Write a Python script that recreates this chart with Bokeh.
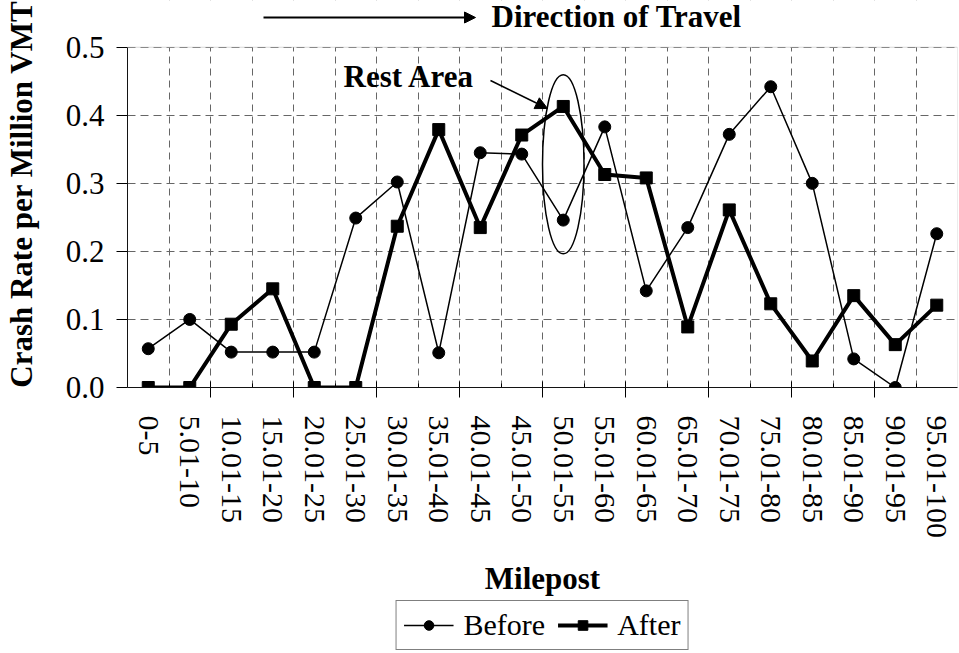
from bokeh.plotting import figure
from bokeh.layouts import column
from bokeh.models import (Range1d, FixedTicker, LinearAxis, Grid, PrintfTickFormatter,
                          Legend, LegendItem, Label, Arrow, NormalHead, BoxAnnotation)
from bokeh.embed import file_html
from bokeh.resources import INLINE

categories = ["0-5", "5.01-10", "10.01-15", "15.01-20", "20.01-25", "25.01-30",
              "30.01-35", "35.01-40", "40.01-45", "45.01-50", "50.01-55", "55.01-60",
              "60.01-65", "65.01-70", "70.01-75", "75.01-80", "80.01-85", "85.01-90",
              "90.01-95", "95.01-100"]
before = [0.057, 0.100, 0.052, 0.052, 0.052, 0.249, 0.302, 0.051, 0.345, 0.343,
          0.246, 0.383, 0.142, 0.235, 0.372, 0.442, 0.300, 0.042, 0.000, 0.226]
after = [0.000, 0.000, 0.093, 0.145, 0.000, 0.000, 0.237, 0.379, 0.235, 0.371,
         0.413, 0.313, 0.308, 0.089, 0.261, 0.123, 0.039, 0.135, 0.063, 0.121]
y_ticks = [0.0, 0.1, 0.2, 0.3, 0.4, 0.5]
rest_area = "50.01-55"

FONT = "Liberation Serif"
W = 958
H_MAIN, H_LEG = 598, 54
FRAME_TOP, FRAME_BOTTOM = 0, 389          # page rows of the drawing area
PLOT_TOP_PX = 47                          # page row of the 0.5 line
n = len(categories)
xs = list(range(n))
boundaries = [i + 0.5 for i in range(n - 1)]
even_bounds = [b for i, b in enumerate(boundaries) if i % 2 == 1]
y_max = y_ticks[-1]
y_end = y_max * (FRAME_BOTTOM - FRAME_TOP) / (FRAME_BOTTOM - PLOT_TOP_PX)

p = figure(width=W, height=H_MAIN, output_backend="svg", toolbar_location=None,
           x_range=Range1d(-0.5, n - 0.5), y_range=Range1d(0, y_end),
           x_axis_type=None,
           min_border_left=124, min_border_right=1, min_border_top=FRAME_TOP,
           min_border_bottom=H_MAIN - FRAME_BOTTOM)
p.outline_line_color = None

ya = p.yaxis[0]
ya.bounds = (0, y_max)
ya.ticker = FixedTicker(ticks=y_ticks, minor_ticks=[])
ya.formatter = PrintfTickFormatter(format="%.1f")
ya.axis_label = "Crash Rate per Million VMT"
ya.axis_label_text_font = FONT
ya.axis_label_text_font_style = "bold"
ya.axis_label_text_font_size = "31px"
ya.axis_label_text_color = "black"
ya.axis_label_standoff = 24
ya.major_label_text_font = FONT
ya.major_label_text_font_size = "31px"
ya.major_label_text_color = "black"
ya.major_label_standoff = 12
ya.major_tick_out = 11
ya.major_tick_in = 0
ya.minor_tick_line_color = None
ya.axis_line_color = "black"
ya.major_tick_line_color = "black"

p.ygrid.ticker = FixedTicker(ticks=y_ticks)
p.ygrid.grid_line_color = "#666666"
p.ygrid.grid_line_dash = "8 5"
p.ygrid.grid_line_width = 1

xa_ticks = LinearAxis(ticker=FixedTicker(ticks=even_bounds, minor_ticks=boundaries),
                      major_tick_in=6, major_tick_out=10, minor_tick_in=4, minor_tick_out=0,
                      major_label_overrides={b: "" for b in even_bounds},
                      major_label_text_font_size="0px", major_label_standoff=0,
                      axis_line_color="black", major_tick_line_color="black",
                      minor_tick_line_color="black")
p.add_layout(xa_ticks, "below")

xa = LinearAxis(ticker=FixedTicker(ticks=xs, minor_ticks=[]),
                major_label_overrides={i: c for i, c in enumerate(categories)},
                major_label_orientation="vertical",
                major_label_text_font=FONT, major_label_text_font_size="30px",
                major_label_text_color="black", major_label_standoff=18,
                major_tick_in=0, major_tick_out=0, major_tick_line_color=None,
                minor_tick_line_color=None, axis_line_color=None,
                axis_label="Milepost", axis_label_text_font=FONT,
                axis_label_text_font_style="bold", axis_label_text_font_size="31px",
                axis_label_text_color="black", axis_label_standoff=20)
p.add_layout(xa, "below")

xgrid = Grid(dimension=0, ticker=FixedTicker(ticks=boundaries),
             grid_line_color="#666666", grid_line_dash="7 5", grid_line_width=1)
p.add_layout(xgrid)

l1 = p.line(xs, before, line_color="black", line_width=1.5)
s1 = p.scatter(xs, before, marker="circle", size=12, fill_color="black", line_color="black")
l2 = p.line(xs, after, line_color="black", line_width=4)
s2 = p.scatter(xs, after, marker="square", size=12, fill_color="black", line_color="black")

ri = categories.index(rest_area)
p.ellipse(x=[ri], y=[0.328], width=1.0, height=0.263, fill_color=None,
          line_color="black", line_width=1.5)

# blank strip above the plot box, and the plot box border
p.add_layout(BoxAnnotation(bottom=y_max, fill_color="white", fill_alpha=1.0,
                           line_color=None, level="annotation"))
p.add_layout(BoxAnnotation(left=-0.5, right=n - 0.5, bottom=0, top=y_max,
                           fill_alpha=0, line_color="#808080", line_width=1,
                           level="annotation"))

# annotations (screen units from the drawing area's bottom-left)
p.add_layout(Label(x=216, y=311, x_units="screen", y_units="screen", text="Rest Area",
                   text_font=FONT, text_font_style="bold", text_font_size="31px",
                   text_color="black", text_baseline="alphabetic", text_align="left"))
p.add_layout(Arrow(x_start=363, y_start=307, x_end=420, y_end=279,
                   start_units="screen", end_units="screen", line_width=1.5,
                   end=NormalHead(size=12, fill_color="black", line_color="black")))
p.add_layout(Arrow(x_start=136, y_start=370, x_end=348, y_end=370,
                   start_units="screen", end_units="screen", line_width=2,
                   end=NormalHead(size=11, fill_color="black", line_color="black")))
p.add_layout(Label(x=364, y=371, x_units="screen", y_units="screen",
                   text="Direction of Travel",
                   text_font=FONT, text_font_style="bold", text_font_size="31px",
                   text_color="black", text_baseline="alphabetic", text_align="left"))

# ---- legend strip (its sample glyphs lie outside its visible ranges) ----
q = figure(width=W, height=H_LEG, output_backend="svg", toolbar_location=None,
           x_range=Range1d(-3, -2), y_range=Range1d(-3, -2),
           x_axis_type=None, y_axis_type=None,
           min_border_left=124, min_border_right=1, min_border_top=0,
           min_border_bottom=0)
q.outline_line_color = None
q.xgrid.visible = False
q.ygrid.visible = False
k1 = q.line(xs, before, line_color="black", line_width=1.5)
k1b = q.scatter(xs, before, marker="circle", size=12, fill_color="black", line_color="black")
k2 = q.line(xs, after, line_color="black", line_width=4)
k2b = q.scatter(xs, after, marker="square", size=12, fill_color="black", line_color="black")

legend = Legend(items=[LegendItem(label="Before", renderers=[k1, k1b]),
                       LegendItem(label="After", renderers=[k2, k2b])],
                orientation="horizontal", location="center",
                label_text_font=FONT, label_text_font_size="30px", label_text_color="black",
                glyph_width=50, glyph_height=24, label_standoff=10, spacing=12,
                padding=7, margin=0, border_line_color="black", border_line_width=1,
                background_fill_color="white", background_fill_alpha=1.0)
q.add_layout(legend)

layout = column(p, q, spacing=0)
open("out.html", "w").write(file_html(layout, INLINE))
